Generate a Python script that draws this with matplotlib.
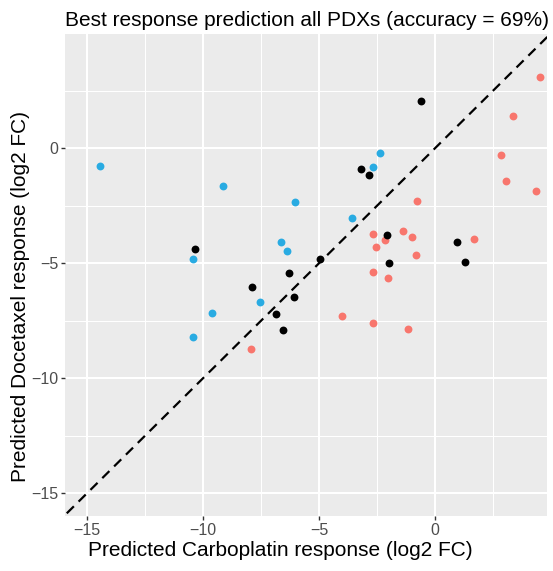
import matplotlib.pyplot as plt
import numpy as np

plt.rcParams['font.family'] = ['Liberation Sans', 'DejaVu Sans']

# predicted response (log2 FC) for each PDX, grouped by outcome of the prediction
carbo_better_x = [4.54, 3.38, 2.86, 3.05, 4.37, -0.78, -2.66, -1.39, -1.00, -2.17,
                  1.68, -2.53, -0.83, -2.66, -2.01, -4.01, -2.66, -1.15, -7.93]
carbo_better_y = [3.09, 1.39, -0.30, -1.41, -1.87, -2.29, -3.73, -3.60, -3.87, -4.00,
                  -3.94, -4.28, -4.63, -5.38, -5.64, -7.28, -7.61, -7.87, -8.71]

doce_better_x = [-14.43, -9.14, -6.02, -6.65, -6.39, -10.42, -7.54, -9.60, -10.42,
                 -2.38, -2.66, -3.56]
doce_better_y = [-0.76, -1.63, -2.33, -4.06, -4.48, -4.81, -6.70, -7.15, -8.19,
                 -0.20, -0.81, -3.03]

wrong_x = [-10.34, -6.28, -7.90, -6.09, -6.87, -6.55, -0.62, -3.19, -2.86, -2.06,
           0.95, -4.96, -2.00, 1.28]
wrong_y = [-4.38, -5.42, -6.03, -6.47, -7.22, -7.91, 2.07, -0.90, -1.15, -3.76,
           -4.06, -4.83, -5.00, -4.93]

x_ticks = [-15, -10, -5, 0]
y_ticks = [0, -5, -10, -15]

fig = plt.figure(figsize=(5.53, 5.71), dpi=100)
ax = fig.add_axes([65 / 553, 55 / 571, 482 / 553, 482 / 571])
ax.set_facecolor('#EBEBEB')

ax.set_xlim(-15.95, 4.83)
ax.set_ylim(-15.99, 4.97)

# ggplot-like grid
for v in np.arange(-17.5, 5, 2.5):
    major = v % 5 == 0
    ax.axvline(v, color='white', lw=1.5 if major else 0.75, zorder=0)
    ax.axhline(v, color='white', lw=1.5 if major else 0.75, zorder=0)

ax.plot([-20, 10], [-20, 10], color='black', lw=1.6, ls=(0, (4.5, 3)), zorder=2)

ax.scatter(carbo_better_x, carbo_better_y, s=32, color='#F8766D', lw=0, zorder=3)
ax.scatter(doce_better_x, doce_better_y, s=32, color='#29ABE2', lw=0, zorder=3)
ax.scatter(wrong_x, wrong_y, s=32, color='black', lw=0, zorder=3)

for s in ax.spines.values():
    s.set_visible(False)
ax.set_xticks(x_ticks)
ax.set_xticklabels(['\u221215', '\u221210', '\u22125', '0'])
ax.set_yticks(y_ticks)
ax.set_yticklabels(['0', '\u22125', '\u221210', '\u221215'])
ax.tick_params(colors='#333333', labelcolor='#4D4D4D', labelsize=11.5, length=3, width=1, pad=2)

ax.set_xlabel('Predicted Carboplatin response (log2 FC)', fontsize=15)
ax.set_ylabel('Predicted Docetaxel response (log2 FC)', fontsize=15)
ax.xaxis.set_label_coords(0.447, -0.052)
ax.yaxis.set_label_coords(-0.072, 0.456)
ax.set_title('Best response prediction all PDXs (accuracy = 69%)', fontsize=15, loc='left', pad=6)

fig.savefig('out.png', dpi=100)
